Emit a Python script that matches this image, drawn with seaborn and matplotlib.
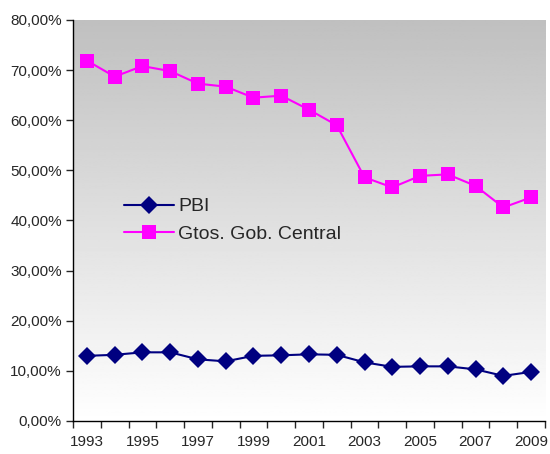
import numpy as np
import pandas as pd
import matplotlib
matplotlib.use("Agg")
import matplotlib.pyplot as plt
import seaborn as sns
from matplotlib.ticker import FixedLocator, FuncFormatter

years = list(range(1993, 2010))
pbi = [13.0, 13.2, 13.7, 13.7, 12.3, 11.9, 13.0, 13.1, 13.3, 13.2,
       11.7, 10.8, 10.9, 10.9, 10.3, 9.0, 9.8]
gtos = [71.9, 68.7, 70.8, 69.8, 67.3, 66.7, 64.5, 64.9, 62.1, 59.0,
        48.6, 46.6, 48.9, 49.2, 46.9, 42.6, 44.6]

df = pd.DataFrame({"year": years + years,
                   "value": pbi + gtos,
                   "serie": ["PBI"] * len(years) + ["Gtos. Gob. Central"] * len(years)})

sns.set_style("white")
plt.rcParams["font.family"] = ["Liberation Sans", "DejaVu Sans"]

fig = plt.figure(figsize=(5.5, 4.54), dpi=100)
ax = fig.add_axes([0.1327, 0.0727, 0.8582, 0.8833])

# fondo degradado gris (arriba) -> blanco (abajo)
grad = np.linspace(0.75, 1.0, 256).reshape(-1, 1)
ax.imshow(grad, cmap="gray", vmin=0, vmax=1, aspect="auto", origin="upper",
          extent=[0, 1, 0, 1], transform=ax.transAxes, zorder=0)

sns.lineplot(data=df, x="year", y="value", hue="serie", style="serie",
             palette={"PBI": "#000080", "Gtos. Gob. Central": "#FF00FF"},
             markers={"PBI": "D", "Gtos. Gob. Central": "s"},
             dashes=False, markersize=9.5, linewidth=1.5,
             markeredgewidth=0, ax=ax, zorder=3)

ax.set_xlim(1992.5, 2009.5)
ax.set_ylim(0, 80)
ax.set_xlabel("")
ax.set_ylabel("")
ax.set_xticks(years[::2])
ax.xaxis.set_minor_locator(FixedLocator(np.arange(1992.5, 2010, 1)))
ax.tick_params(axis="x", which="major", length=0, labelsize=11, pad=10)
ax.tick_params(axis="x", which="minor", length=5, width=1, direction="out", bottom=True)
ax.set_yticks(np.arange(0, 81, 10))
ax.yaxis.set_major_formatter(FuncFormatter(lambda v, p: f"{v:.2f}%".replace(".", ",")))
ax.tick_params(axis="y", length=5, width=1, direction="out", left=True, labelsize=11, pad=3)

for s in ["top", "right"]:
    ax.spines[s].set_visible(False)
for s in ["left", "bottom"]:
    ax.spines[s].set_color("black")
    ax.spines[s].set_linewidth(1)

leg = ax.legend(loc="upper left", bbox_to_anchor=(0.07, 0.60), frameon=False,
                fontsize=14, handlelength=2.6, handletextpad=0.2, labelspacing=0.5)
leg.set_title(None)

fig.savefig("out.png", dpi=100)
